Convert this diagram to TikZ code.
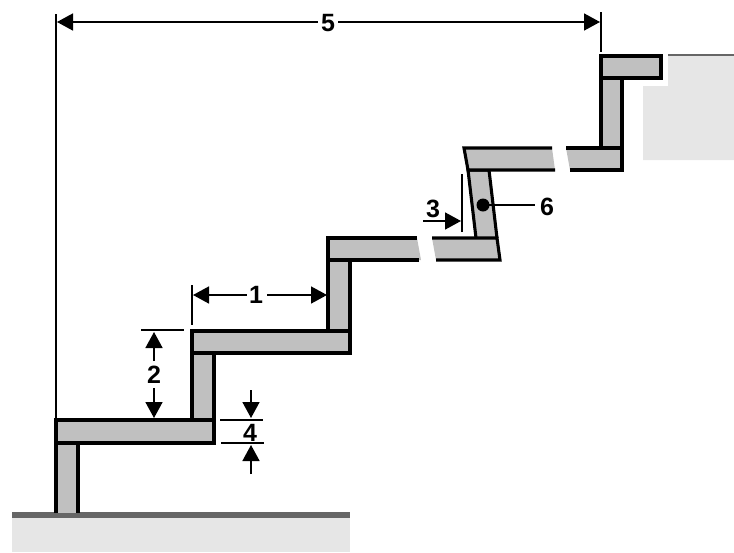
\documentclass[tikz,border=0pt]{standalone}
\usepackage{fontspec}
\setmainfont{Liberation Sans}
\usetikzlibrary{arrows.meta}
\definecolor{stair}{HTML}{C0C0C0}
\definecolor{ground}{HTML}{E6E6E6}
\definecolor{groundline}{HTML}{666666}
\tikzset{
  part/.style={fill=stair,draw=black,line width=3.1pt,line join=miter},
  cutfill/.style={fill=stair,draw=none},
  edge/.style={draw=black,line width=3.1pt},
  thin line/.style={draw=black,line width=1.6pt},
  dim/.style={thin line,-{Triangle[length=16pt,width=17pt]}},
  num/.style={font=\fontsize{25}{25}\selectfont\bfseries,inner sep=0pt,text=black}
}
\begin{document}
\begin{tikzpicture}[x=1pt,y=-1pt]
\useasboundingbox (0,0) rectangle (734,552);
% ground and wall
\fill[ground] (12,516) rectangle (350,552);
\fill[groundline] (12,512) rectangle (350,518);
\fill[ground] (668,55) -- (734,55) -- (734,160) -- (643,160) -- (643,86) -- (668,86) -- cycle;
\draw[groundline,line width=1.2pt] (668,55) -- (734,55);
% risers
\draw[part] (56,513) -- (56,443) -- (78,443) -- (78,513);
\draw[part] (192,420) rectangle (214,353);
\draw[part] (328,331) rectangle (350,260);
\draw[part] (476,238) -- (468,170) -- (489,170) -- (497,238);
\draw[part] (601,148) rectangle (622,78);
% treads
\draw[part] (56,420) rectangle (214,443);
\draw[part] (192,331) rectangle (350,353);
\draw[part] (601,56) rectangle (661,78);
% broken tread 3
\fill[cutfill] (328,238) -- (417,238) -- (421,260) -- (328,260) -- cycle;
\fill[cutfill] (432,238) -- (497,238) -- (500,260) -- (436,260) -- cycle;
\draw[edge] (419,260) -- (328,260) -- (328,238) -- (417,238);
\draw[edge] (432,238) -- (497,238) -- (500,260) -- (436,260);
% broken tread 4
\fill[cutfill] (464,148) -- (552,148) -- (555,170) -- (468,170) -- cycle;
\fill[cutfill] (566,148) -- (622,148) -- (622,170) -- (570,170) -- cycle;
\draw[edge] (555,170) -- (468,170) -- (464,148) -- (552,148);
\draw[edge] (566,148) -- (622,148) -- (622,170) -- (570,170);
% dimension 5
\coordinate (d5l) at (57,22);
\coordinate (d5r) at (600,22);
\node[num] (n5) at (328,23) {5};
\draw[thin line] (56,14) -- (56,418);
\draw[thin line] (601,12) -- (601,52);
\draw[dim] (n5.west) ++(-3,-1) -- (d5l);
\draw[dim] (n5.east) ++(3,-1) -- (d5r);
% dimension 1
\coordinate (d1l) at (193,295);
\coordinate (d1r) at (327,295);
\node[num] (n1) at (256,295) {1};
\draw[thin line] (192,285) -- (192,325);
\draw[dim] (n1.west) ++(-2,0) -- (d1l);
\draw[dim] (n1.east) ++(4,0) -- (d1r);
% dimension 2
\coordinate (d2t) at (154,332);
\coordinate (d2b) at (154,418);
\node[num] (n2) at (154,375) {2};
\draw[thin line] (141,330) -- (184,330);
\draw[dim] (n2.north) ++(0,-5) -- (d2t);
\draw[dim] (n2.south) ++(0,4) -- (d2b);
% dimension 4
\coordinate (d4t) at (251,418);
\coordinate (d4b) at (251,445);
\coordinate (d4ts) at (251,390);
\coordinate (d4bs) at (251,474);
\node[num] (n4) at (250,433) {4};
\draw[thin line] (220,420) -- (263,420);
\draw[thin line] (221,443) -- (264,443);
\draw[dim] (d4ts) -- (d4t);
\draw[dim] (d4bs) -- (d4b);
% dimension 3
\coordinate (d3s) at (423,221);
\coordinate (d3t) at (461,221);
\node[num] (n3) at (433,209) {3};
\draw[thin line] (462,174) -- (462,232);
\draw[dim] (d3s) -- (d3t);
% callout 6
\coordinate (dot6) at (483,205);
\node[num] (n6) at (547,207) {6};
\fill[black] (dot6) circle (6.5);
\draw[thin line] (dot6) -- (535,205);
\end{tikzpicture}
\end{document}
